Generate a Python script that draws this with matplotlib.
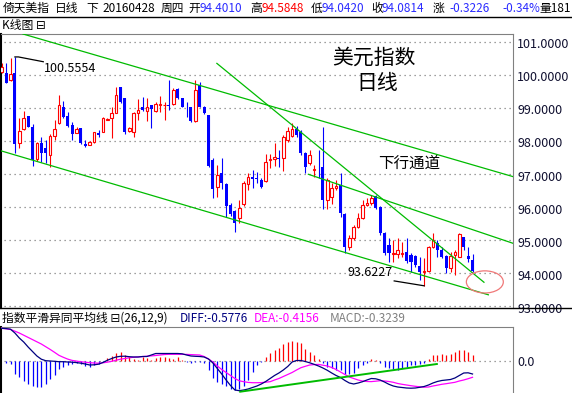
import matplotlib
matplotlib.use('Agg')
import matplotlib.pyplot as plt
from matplotlib.patches import Ellipse
from matplotlib.lines import Line2D
from matplotlib.transforms import blended_transform_factory, offset_copy

plt.rcParams['font.family'] = ['Noto Sans CJK SC', 'DejaVu Sans']

# daily candles, dollar index
opens = [100.11, 100.06, 99.86, 100.08, 97.96, 98.36, 98.77, 98.44, 97.45, 97.94,
         97.79, 97.59, 98.16, 98.55, 99.03, 98.77, 98.49, 98.26, 98.39, 97.92,
         97.89, 97.99, 98.24, 98.29, 98.66, 98.70, 98.87, 99.65, 99.30, 98.32,
         98.29, 98.87, 99.03, 98.93, 99.10, 98.93, 99.11, 99.09, 99.10, 99.13,
         99.58, 99.30, 99.05, 99.05, 98.62, 99.71, 99.05, 98.80, 97.43, 96.62,
         97.04, 96.71, 96.07, 95.90, 95.68, 96.10, 96.71, 96.92, 96.90, 96.83,
         96.80, 97.43, 97.47, 97.49, 97.49, 98.04, 98.16, 98.37, 98.29, 97.65,
         97.35, 97.13, 97.23, 97.23, 96.22, 96.30, 96.58, 96.68, 95.80, 94.81,
         95.06, 95.41, 95.68, 96.07, 96.12, 96.34, 96.01, 95.21, 94.86, 94.58,
         94.58, 94.58, 94.66, 94.55, 94.52, 94.22, 94.05, 94.08, 94.79, 94.93,
         94.71, 94.52, 94.15, 94.55, 94.50, 95.09, 94.52, 94.401]
highs = [100.36, 100.36, 100.52, 100.5554, 98.70, 98.93, 98.77, 98.52, 97.99, 98.12,
         98.04, 98.22, 98.65, 99.40, 99.23, 98.90, 98.59, 98.42, 98.39, 98.04,
         98.02, 98.29, 98.34, 98.73, 98.70, 99.05, 99.65, 99.65, 99.30, 98.44,
         98.90, 99.27, 99.35, 99.30, 99.10, 99.20, 99.37, 99.20, 99.86, 99.60,
         99.60, 99.30, 99.20, 99.05, 99.86, 99.80, 99.07, 98.80, 97.49, 97.28,
         97.49, 96.74, 96.13, 95.92, 96.22, 96.80, 97.04, 97.13, 97.08, 96.89,
         97.62, 97.62, 97.95, 97.74, 98.19, 98.43, 98.56, 98.46, 98.34, 97.68,
         97.74, 97.28, 97.74, 98.44, 96.88, 96.75, 96.83, 97.05, 95.82, 95.16,
         95.46, 95.82, 96.22, 96.27, 96.37, 96.37, 96.04, 95.26, 95.06, 95.01,
         95.06, 94.96, 95.06, 94.61, 94.55, 94.49, 94.46, 94.83, 95.23, 95.01,
         94.81, 94.55, 94.66, 94.71, 95.23, 95.11, 94.81, 94.5848]
lows = [100.06, 99.76, 99.84, 97.64, 97.79, 98.34, 98.42, 97.25, 97.41, 97.38,
        97.35, 97.23, 98.04, 98.52, 98.70, 98.44, 98.04, 98.24, 97.92, 97.83,
        97.89, 97.96, 98.14, 98.27, 98.65, 98.09, 98.85, 99.15, 98.22, 98.29,
        98.12, 98.65, 98.93, 98.62, 98.39, 98.90, 98.90, 98.65, 98.95, 99.10,
        99.27, 99.03, 98.75, 98.59, 98.59, 99.03, 98.83, 97.23, 96.28, 96.31,
        96.55, 95.71, 95.74, 95.25, 95.52, 96.04, 96.52, 96.58, 96.74, 96.58,
        96.77, 97.19, 97.25, 97.23, 97.11, 97.98, 98.13, 98.13, 97.58, 97.04,
        97.28, 96.93, 96.88, 95.94, 95.94, 96.10, 96.52, 95.71, 94.61, 94.71,
        95.01, 95.37, 95.64, 96.04, 96.07, 95.94, 95.16, 94.55, 94.35, 94.35,
        94.45, 94.50, 94.32, 94.05, 94.20, 93.80, 93.6227, 94.05, 94.76, 94.49,
        94.45, 94.00, 94.05, 93.95, 94.48, 94.71, 94.35, 94.042]
closes = [100.24, 99.78, 100.03, 97.92, 98.32, 98.70, 98.44, 97.43, 97.96, 97.65,
          97.65, 98.16, 98.36, 99.10, 98.73, 98.46, 98.22, 98.37, 97.94, 97.86,
          97.99, 98.29, 98.19, 98.70, 98.67, 98.85, 99.40, 99.20, 98.29, 98.39,
          98.87, 98.95, 98.95, 99.05, 98.97, 99.13, 99.13, 99.10, 99.08, 99.55,
          99.30, 99.05, 99.03, 98.62, 99.55, 99.05, 98.87, 97.25, 96.55, 96.98,
          96.74, 96.04, 95.80, 95.53, 95.98, 96.74, 96.92, 96.87, 96.86, 96.62,
          97.37, 97.47, 97.52, 97.46, 98.13, 98.31, 98.37, 98.19, 97.64, 97.23,
          97.59, 97.15, 97.21, 96.22, 96.83, 96.58, 96.65, 95.82, 94.81, 95.06,
          95.41, 95.68, 96.07, 96.12, 96.27, 95.98, 95.21, 94.61, 94.62, 94.62,
          94.71, 94.62, 94.38, 94.35, 94.25, 94.05, 94.08, 94.81, 95.01, 94.71,
          94.49, 94.15, 94.52, 94.66, 95.19, 94.81, 94.42, 94.0814]

# MACD(26,12,9) panel
diff = [0.654, 0.648, 0.636, 0.56, 0.46, 0.38, 0.28, 0.19, 0.10, 0.036,
        0.006, 0.0, -0.006, -0.014, -0.014, -0.02, -0.024, -0.032, -0.044, -0.06,
        -0.08, -0.076, -0.064, -0.03, 0.014, 0.05, 0.08, 0.094, 0.096, 0.086,
        0.08, 0.08, 0.09, 0.09, 0.12, 0.15, 0.15, 0.15, 0.15, 0.15,
        0.15, 0.144, 0.12, 0.10, 0.094, 0.09, 0.08, 0.04, -0.04, -0.15,
        -0.26, -0.38, -0.49, -0.58, -0.594, -0.58, -0.56, -0.53, -0.50, -0.46,
        -0.41, -0.35, -0.29, -0.24, -0.18, -0.11, -0.02, 0.01, 0.01, -0.01,
        -0.036, -0.066, -0.10, -0.14, -0.186, -0.24, -0.29, -0.33, -0.39, -0.44,
        -0.46, -0.44, -0.414, -0.38, -0.35, -0.356, -0.38, -0.42, -0.466, -0.50,
        -0.52, -0.53, -0.54, -0.544, -0.54, -0.526, -0.51, -0.48, -0.44, -0.41,
        -0.39, -0.38, -0.37, -0.34, -0.29, -0.24, -0.236, -0.26]
dea = [0.654, 0.644, 0.632, 0.596, 0.56, 0.516, 0.472, 0.428, 0.384, 0.34,
       0.286, 0.232, 0.174, 0.114, 0.074, 0.038, 0.012, -0.002, -0.016, -0.024,
       -0.034, -0.04, -0.044, -0.036, -0.024, -0.006, 0.016, 0.036, 0.05, 0.064,
       0.076, 0.082, 0.088, 0.096, 0.102, 0.11, 0.12, 0.13, 0.134, 0.134,
       0.134, 0.134, 0.132, 0.128, 0.124, 0.12, 0.09, 0.04, -0.02, -0.10,
       -0.17, -0.23, -0.29, -0.35, -0.396, -0.414, -0.428, -0.434, -0.434, -0.432,
       -0.424, -0.414, -0.38, -0.35, -0.31, -0.27, -0.23, -0.18, -0.134, -0.106,
       -0.08, -0.072, -0.068, -0.084, -0.10, -0.13, -0.17, -0.22, -0.27, -0.32,
       -0.35, -0.38, -0.40, -0.41, -0.412, -0.404, -0.394, -0.40, -0.41, -0.426,
       -0.45, -0.466, -0.48, -0.494, -0.506, -0.516, -0.524, -0.52, -0.50, -0.484,
       -0.466, -0.454, -0.44, -0.426, -0.40, -0.38, -0.354, -0.326]
macd = [0.0, -0.04, -0.06, -0.26, -0.32, -0.40, -0.46, -0.50, -0.52, -0.52,
        -0.46, -0.36, -0.28, -0.16, -0.12, -0.08, -0.06, -0.04, -0.06, -0.10,
        -0.12, -0.08, -0.06, -0.02, 0.06, 0.10, 0.16, 0.18, 0.12, 0.08,
        0.04, 0.02, 0.08, 0.06, 0.02, 0.06, 0.08, 0.08, 0.06, 0.04,
        0.08, 0.02, -0.02, -0.04, -0.02, -0.02, -0.04, -0.18, -0.34, -0.42,
        -0.46, -0.50, -0.56, -0.58, -0.56, -0.50, -0.38, -0.22, -0.08, -0.02,
        0.08, 0.16, 0.22, 0.26, 0.34, 0.38, 0.40, 0.38, 0.36, 0.24,
        0.18, 0.12, 0.04, -0.04, -0.12, -0.14, -0.18, -0.18, -0.26, -0.26,
        -0.24, -0.14, -0.08, -0.04, 0.04, 0.02, -0.04, -0.12, -0.14, -0.16,
        -0.18, -0.14, -0.12, -0.08, -0.08, -0.06, -0.04, 0.04, 0.12, 0.12,
        0.14, 0.12, 0.14, 0.18, 0.22, 0.22, 0.18, 0.12]

price_ticks = [93, 94, 95, 96, 97, 98, 99, 100, 101]

RED = '#ff0000'
BLUE = '#0000ff'
GREEN = '#00bb00'
W, H = 572, 393

fig = plt.figure(figsize=(W / 100, H / 100), dpi=100)
fig.patch.set_facecolor('white')

ax = fig.add_axes([1 / W, 1 - 308 / H, 512 / W, 274 / H])
ax2 = fig.add_axes([1 / W, 0, 512 / W, 66 / H])
for a in (ax, ax2):
    a.set_xlim(-0.16, 116.2)
    a.set_xticks([])
    a.set_yticks([])
    a.spines['left'].set_color('black')
    a.spines['left'].set_linewidth(1.5)
    a.spines['top'].set_color('#808080')
    a.spines['right'].set_color('#808080')
    a.spines['bottom'].set_visible(False)
ax.set_ylim(92.95, 101.25)
ax2.set_ylim(-0.64, 0.68)

# grid
ax.hlines(price_ticks, -1, 117, colors='#808080', linestyles=(0, (1, 3)), lw=0.9, zorder=0)
ax2.hlines(0, -1, 117, colors='#808080', linestyles=(0, (1, 3)), lw=0.9, zorder=0)

# candles
for i, (o, h, l, c) in enumerate(zip(opens, highs, lows, closes)):
    if c >= o:
        ax.vlines(i, l, h, color=RED, lw=0.8, zorder=2)
        ax.bar(i, max(c - o, 0.02), bottom=o, width=0.62, facecolor='white',
               edgecolor=RED, lw=0.8, zorder=3)
    else:
        ax.vlines(i, l, h, color=BLUE, lw=0.8, zorder=2)
        ax.bar(i, o - c, bottom=c, width=0.72, color=BLUE, lw=0, zorder=3)

# channel lines
ax.plot([4.84, 116.2], [101.25, 96.93], color=GREEN, lw=0.9, zorder=4)
ax.plot([-0.39, 110.6], [97.72, 93.35], color=GREEN, lw=0.9, zorder=4)
ax.plot([69.7, 116.2], [97.0, 94.91], color=GREEN, lw=0.9, zorder=4)
ax.plot([48.9, 109.6], [100.36, 93.73], color=GREEN, lw=0.9, zorder=4)
ax.add_patch(Ellipse((109.8, 93.74), 8.4, 0.67, fill=False, edgecolor='#f07878', lw=0.9, zorder=5))

# high / low markers
hi = highs.index(max(highs))
lo = lows.index(min(lows))
ax.plot([hi, hi + 0.8, 9.45], [highs[hi], highs[hi], 100.41], color='black', lw=0.9, zorder=5)
ax.text(9.6, 100.21, '%.4f' % highs[hi], fontsize=9, va='center', ha='left', zorder=6)
ax.plot([lo, 89.2], [lows[lo], 93.77], color='black', lw=0.9, zorder=5)
ax.text(78.7, 94.02, '%.4f' % lows[lo], fontsize=9, va='center', ha='left', zorder=6)

ax.text(75.1, 100.54, '美元指数', fontsize=15, va='center', ha='left')
ax.text(80.5, 99.77, '日线', fontsize=15, va='center', ha='left')
ax.text(85.5, 97.33, '下行通道', fontsize=11.2, va='center', ha='left')

# right price labels
tr = offset_copy(blended_transform_factory(ax.transAxes, ax.transData), fig=fig, x=4, y=-2.7, units='dots')
for p in price_ticks:
    ax.text(1, p, '%.4f' % p, transform=tr, fontsize=9, color='#101030',
            va='center', ha='left', clip_on=False)
tr2 = offset_copy(blended_transform_factory(ax2.transAxes, ax2.transData), fig=fig, x=4, y=-1, units='dots')
ax2.text(1, 0, '0.0', transform=tr2, fontsize=9, color='#101030', va='center', ha='left', clip_on=False)

# MACD panel
xs = list(range(len(macd)))
ax2.vlines(xs, 0, macd, colors=[RED if v > 0 else BLUE for v in macd], lw=0.9, zorder=2)
ax2.plot(xs, dea, color='#ff00ff', lw=0.9, zorder=3)
ax2.plot(xs, diff, color='#000080', lw=0.9, zorder=4)
ax2.plot([54.2, 98.9], [-0.614, -0.06], color=GREEN, lw=1.4, zorder=5)

# separators
fig.add_artist(Line2D([0, 1], [1 - 17 / H, 1 - 17 / H], color='black', lw=1))
fig.add_artist(Line2D([0, 1], [1 - 308 / H, 1 - 308 / H], color='black', lw=1))

# header
hy = 1 - 8.5 / H
header = [(3, '倚天美指', 'black'), (55, '日线', 'black'), (86, '下', 'black'),
          (102, '20160428', 'black'), (161, '周四', 'black'),
          (188, '开', 'black'), (200, '94.4010', '#2b2bff'),
          (250, '高', 'black'), (261, '94.5848', RED),
          (311, '低', 'black'), (322, '94.0420', '#2b2bff'),
          (371, '收', 'black'), (382, '94.0814', '#2b2bff'),
          (433, '涨', 'black'), (449, '-0.3226', '#2b2bff'), (502, '-0.34%', '#2b2bff'),
          (539, '量181', 'black')]
for x, s, col in header:
    fig.text(x / W, hy, s, fontsize=8.5, color=col, va='center', ha='left')

fig.text(2 / W, 1 - 26 / H, 'K线图 ⊟', fontsize=8.5, va='center', ha='left')

my = 1 - 318 / H
macd_head = [(2, '指数平滑异同平均线 ⊟(26,12,9)', 'black'), (180, 'DIFF:-0.5776', '#000080'),
             (254, 'DEA:-0.4156', '#ff00ff'), (330, 'MACD:-0.3239', '#808080')]
for x, s, col in macd_head:
    fig.text(x / W, my, s, fontsize=8.5, color=col, va='center', ha='left')

fig.savefig('out.png', dpi=100, facecolor='white')
